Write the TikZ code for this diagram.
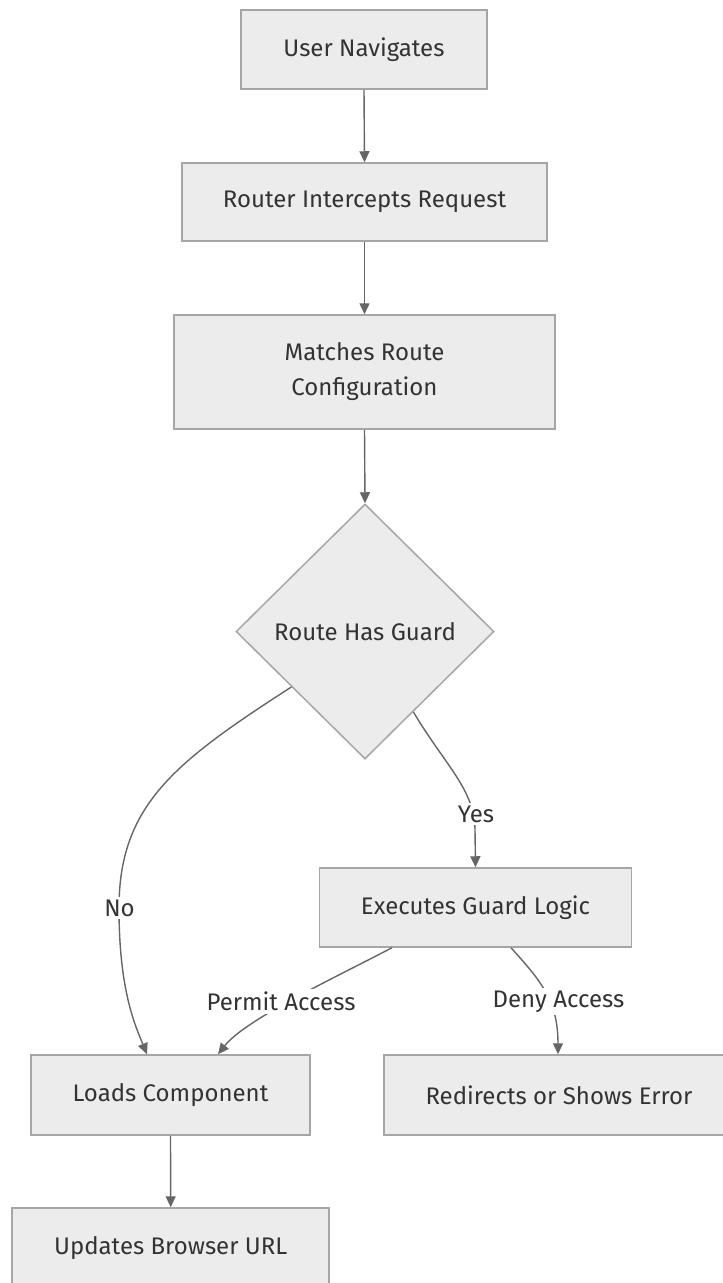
\documentclass[tikz,border=0pt]{standalone}
\usepackage{fontspec}
\setmainfont{Fira Sans}
\usetikzlibrary{shapes.geometric,arrows.meta}
\definecolor{boxfill}{HTML}{ECECEC}
\definecolor{boxline}{HTML}{A6A6A6}
\definecolor{edgeline}{HTML}{666666}
\definecolor{txt}{HTML}{333333}
\tikzset{
  stepbox/.style={draw=boxline, fill=boxfill, line width=1.5pt, inner sep=0pt, align=center,
    text=txt, font=\fontsize{24}{35}\selectfont},
  decision/.style={diamond, draw=boxline, fill=boxfill, line width=1.5pt, inner sep=0pt,
    minimum width=258pt, minimum height=255pt, text=txt, font=\fontsize{24}{35}\selectfont},
  edgelabel/.style={fill=white, inner sep=3pt, text=txt, font=\fontsize{24}{30}\selectfont},
  flow/.style={draw=edgeline, line width=1.4pt,
    -{Triangle[length=11pt,width=10pt,fill=edgeline]}},
}
\begin{document}
\begin{tikzpicture}[x=1pt,y=-1pt]
\useasboundingbox (0,0) rectangle (723,1283);
\node[stepbox, minimum width=246pt, minimum height=79pt] (n1) at (364,49.5) {User Navigates};
\node[stepbox, minimum width=365pt, minimum height=78pt] (n2) at (364.5,202) {Router Intercepts Request};
\node[stepbox, minimum width=381pt, minimum height=114pt] (n3) at (364.5,372) {Matches Route\\Configuration};
\node[decision] (n4) at (365,631.5) {Route Has Guard};
\node[stepbox, minimum width=312pt, minimum height=79pt] (n5) at (475.5,907.5) {Executes Guard Logic};
\node[stepbox, minimum width=279pt, minimum height=80pt] (n6) at (170.5,1095) {Loads Component};
\node[stepbox, minimum width=350pt, minimum height=80pt] (n7) at (559,1095) {Redirects or Shows Error};
\node[stepbox, minimum width=317pt, minimum height=80pt] (n8) at (170.7,1248) {Updates Browser URL};

\draw[flow] (n1.south) -- (n2.north);
\draw[flow] (n2.south) -- (n3.north);
\draw[flow] (n3.south) -- (n4.north);
\draw[flow] (n4.217) .. controls (175,762) and (119,805) .. (119,908)
  .. controls (119,990) and (135,1025) .. ([xshift=-23.5pt]n6.north);
\draw[flow] (n4.301) .. controls (445,765) and (475,790) .. (475,830) -- (n5.north);
\draw[flow] ([xshift=-83.5pt]n5.south) .. controls (330,980) and (245,1020) .. ([xshift=47.5pt]n6.north);
\draw[flow] ([xshift=35.5pt]n5.south) .. controls (540,980) and (558,1000) .. ([xshift=-1pt]n7.north);
\draw[flow] (n6.south) -- (n8.north);

\node[edgelabel] (lno) at (119.5,908) {No};
\node[edgelabel] (lyes) at (476,814) {Yes};
\node[edgelabel] (lpermit) at (281,1001.5) {Permit Access};
\node[edgelabel] (ldeny) at (558.5,1001.5) {Deny Access};
\end{tikzpicture}
\end{document}
